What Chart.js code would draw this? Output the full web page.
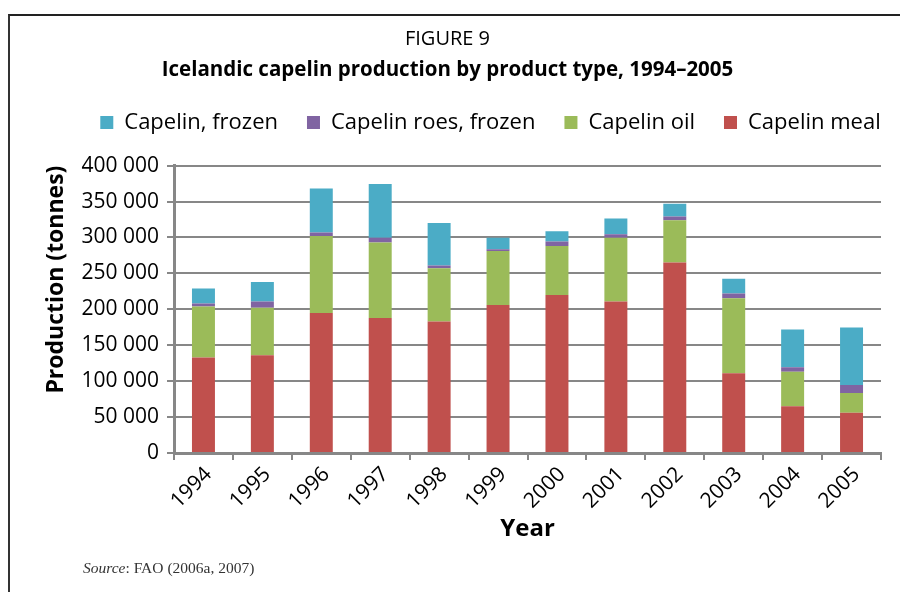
<!DOCTYPE html>
<html>
<head>
<meta charset="utf-8">
<script src="https://cdn.jsdelivr.net/npm/chart.js@4.4.1/dist/chart.umd.min.js"></script>
<style>
    html, body { margin: 0; padding: 0; background: #fff; }
    #wrap { position: relative; width: 900px; height: 592px; overflow: hidden; }
    #frame {
        position: absolute; left: 8px; top: 14px; width: 900px; height: 600px;
        border-left: 2px solid #333; border-top: 2px solid #222;
    }
    #source {
        position: absolute; left: 83px; top: 559px;
        font-family: "Liberation Serif", "DejaVu Serif", serif; font-size: 15.5px; color: #333;
    }
    canvas { position: absolute; left: 0; top: 0; }
</style>
</head>
<body>
<div id="wrap">
    <div id="frame"></div>
    <canvas id="capelinChart" width="900" height="592"></canvas>
    <div id="source"><i>Source</i>: FAO (2006a, 2007)</div>
</div>
<script>
const years = ['1994', '1995', '1996', '1997', '1998', '1999', '2000', '2001', '2002', '2003', '2004', '2005'];

// tonnes
const capelinMeal = [133000, 136000, 195000, 188000, 183000, 206000, 220000, 211000, 265000, 111000, 65000, 56000];
const capelinOil = [71000, 66000, 107000, 105000, 74000, 75000, 68000, 88500, 59000, 104500, 48000, 27500];
const capelinRoesFrozen = [4000, 9000, 5000, 6500, 4000, 2500, 6500, 5000, 5000, 6500, 6500, 11000];
const capelinFrozen = [21000, 27000, 61000, 75000, 59000, 16000, 14000, 22000, 18000, 20500, 52500, 80000];

const FONT = '"Open Sans", "Noto Sans", sans-serif';
const GRID = '#878787';

const fmt = (v) => String(v).replace(/\B(?=(\d{3})+(?!\d))/g, ' ');

// push the plot down below the legend, nudge titles and legend sideways
const layoutTweaks = {
    id: 'layoutTweaks',
    beforeInit(chart) {
        const fit = chart.legend.fit;
        chart.legend.fit = function () {
            fit.bind(chart.legend)();
            this.height += 22;
        };
    },
    afterLayout(chart) {
        chart.boxes.forEach((box) => {
            if (box === chart.legend) {
                box.left += 30;
                box.right += 30;
            } else if (box.position === 'top' && box.options && typeof box.options.text === 'string') {
                box.left -= 13;
                box.right -= 13;
            }
        });
    }
};

const ctx = document.getElementById('capelinChart').getContext('2d');

new Chart(ctx, {
    type: 'bar',
    data: {
        labels: years,
        datasets: [
            { label: 'Capelin meal', data: capelinMeal, backgroundColor: '#C0504D' },
            { label: 'Capelin oil', data: capelinOil, backgroundColor: '#9BBB59' },
            { label: 'Capelin roes, frozen', data: capelinRoesFrozen, backgroundColor: '#8064A2' },
            { label: 'Capelin, frozen', data: capelinFrozen, backgroundColor: '#4BACC6' }
        ]
    },
    plugins: [layoutTweaks],
    options: {
        responsive: false,
        animation: false,
        layout: {
            padding: { left: 40, right: 19, top: 27, bottom: 44 }
        },
        datasets: {
            bar: {
                barPercentage: 0.39,
                categoryPercentage: 1.0
            }
        },
        scales: {
            x: {
                stacked: true,
                afterFit: (scale) => { scale.height = 95; },
                grid: {
                    offset: true,
                    drawOnChartArea: false,
                    drawTicks: true,
                    tickLength: 7,
                    color: GRID,
                    lineWidth: 2
                },
                border: { color: GRID, width: 3 },
                ticks: {
                    color: '#000',
                    font: { family: FONT, size: 21 },
                    minRotation: 45,
                    maxRotation: 45,
                    padding: 2,
                    labelOffset: 5
                },
                title: {
                    display: true,
                    text: 'Year',
                    color: '#000',
                    font: { family: FONT, size: 24, weight: 'bold' },
                    padding: { top: 0 }
                }
            },
            y: {
                stacked: true,
                min: 0,
                max: 400000,
                afterFit: (scale) => { scale.width = 134; },
                grid: {
                    color: GRID,
                    lineWidth: 2,
                    drawTicks: true,
                    tickLength: 7
                },
                border: { color: GRID, width: 3 },
                ticks: {
                    stepSize: 50000,
                    autoSkip: false,
                    color: '#000',
                    font: { family: FONT, size: 21 },
                    padding: 8,
                    callback: (v) => fmt(v)
                },
                title: {
                    display: true,
                    text: 'Production (tonnes)',
                    align: 'end',
                    color: '#000',
                    font: { family: FONT, size: 23, weight: 'bold' },
                    padding: { top: 3, bottom: 0 }
                }
            }
        },
        plugins: {
            title: {
                display: true,
                text: 'FIGURE 9',
                color: '#000',
                font: { family: FONT, size: 20, weight: 'normal' },
                padding: { top: 0, bottom: 7 }
            },
            subtitle: {
                display: true,
                text: 'Icelandic capelin production by product type, 1994–2005',
                color: '#000',
                font: { family: FONT, size: 20.5, weight: 'bold' },
                padding: { top: 0, bottom: 0 }
            },
            legend: {
                display: true,
                reverse: true,
                labels: {
                    color: '#000',
                    font: { family: FONT, size: 22 },
                    boxWidth: 13,
                    boxHeight: 13,
                    padding: 29
                }
            },
            tooltip: { enabled: false }
        }
    }
});
</script>
</body>
</html>
